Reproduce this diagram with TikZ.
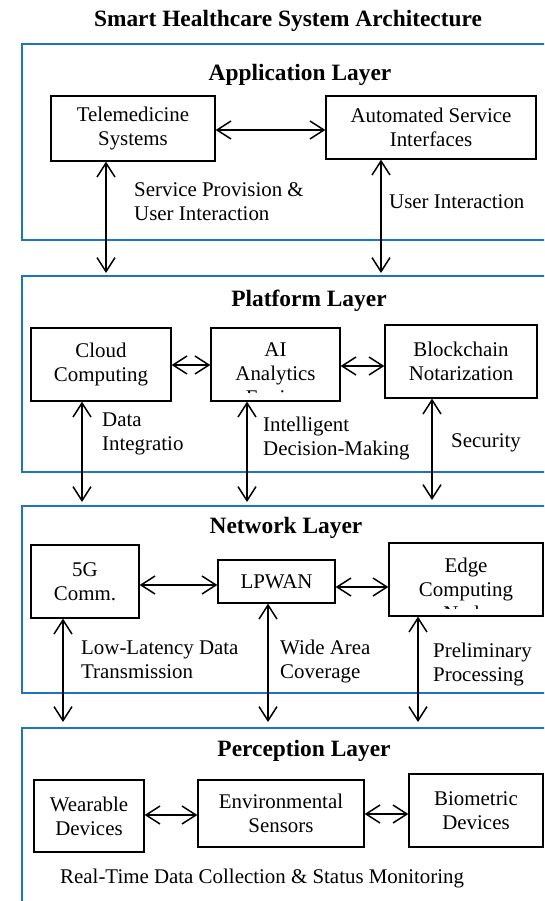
\documentclass[tikz,border=0pt]{standalone}
\usepackage{fontspec}
\setmainfont{Liberation Serif}
\usetikzlibrary{arrows.meta}
\definecolor{layerblue}{RGB}{27,117,196}
\begin{document}
\begin{tikzpicture}[x=1pt,y=-1pt,
  txt/.style={font=\fontsize{20.9}{24}\selectfont, inner sep=0pt, align=center},
  ttl/.style={font=\fontsize{23.4}{27}\selectfont\bfseries, inner sep=0pt},
  lbl/.style={font=\fontsize{20.9}{24}\selectfont, inner sep=0pt, align=left, anchor=west},
  layer/.style={draw=layerblue, line width=2.6pt},
  box/.style={draw=black, line width=1.3pt, inner sep=0pt, align=center,
              font=\fontsize{20.9}{24}\selectfont},
  link/.style={line width=1.5pt,
    {Straight Barb[length=14pt,width=18pt]}-{Straight Barb[length=14pt,width=18pt]}}
]
\useasboundingbox (0,0) rectangle (544,901);
\clip (0,0) rectangle (544,901);
\fill[white] (0,0) rectangle (544,901);

% title
\node[ttl] (title) at (288,21) {Smart Healthcare System Architecture};

% layers
\draw[layer] (22,44) rectangle (570,240);
\draw[layer] (22,276) rectangle (570,472);
\draw[layer] (22,506) rectangle (570,693);
\draw[layer] (22,728) rectangle (570,930);

\node[ttl] (l1) at (300,75) {Application Layer};
\node[ttl] (l2) at (309,301) {Platform Layer};
\node[ttl] (l3) at (286,528) {Network Layer};
\node[ttl] (l4) at (304,751) {Perception Layer};

% Application layer boxes
\node[box, minimum width=164pt, minimum height=65pt] (tele) at (133,128.5) {Telemedicine\\Systems};
\node[box, minimum width=210pt, minimum height=63pt] (auto) at (431,127.5) {Automated Service\\Interfaces};

% Platform layer boxes
\node[box, minimum width=140pt, minimum height=73pt] (cloud) at (101,364.5) {Cloud\\Computing};
\node[box, minimum width=129pt, minimum height=73pt] (ai) at (275.5,364.5) {};
\begin{scope}
  \clip (211,328) rectangle (340,392.5);
  \node[txt, anchor=north] (aitext) at (275.5,342.4) {AI\\Analytics\\Engine};
\end{scope}
\node[box, minimum width=152pt, minimum height=73pt] (blk) at (461,361.5) {Blockchain\\Notarization};

% Network layer boxes
\node[box, minimum width=108pt, minimum height=73pt] (g5) at (85,581.5) {5G\\Comm.};
\node[box, minimum width=117pt, minimum height=43pt] (lp) at (276.5,581.5) {LPWAN};
\node[box, minimum width=154pt, minimum height=73pt] (edge) at (466,579.5) {};
\begin{scope}
  \clip (389,543) rectangle (543,608.5);
  \node[txt, anchor=north] (edgetext) at (466,557.9) {Edge\\Computing\\Node};
\end{scope}

% Perception layer boxes
\node[box, minimum width=110pt, minimum height=72pt] (wear) at (89,816) {Wearable\\Devices};
\node[box, minimum width=166pt, minimum height=67pt] (env) at (281,813.5) {Environmental\\Sensors};
\node[box, minimum width=134pt, minimum height=73pt] (bio) at (476,810.5) {Biometric\\Devices};

% horizontal links
\coordinate (h1) at (0,130);
\coordinate (h2) at (0,365);
\coordinate (h3) at (0,366);
\coordinate (h4) at (0,585);
\coordinate (h5) at (0,587);
\coordinate (h6) at (0,815);
\coordinate (h7) at (0,814);
\draw[link] (tele.east |- h1) -- (auto.west |- h1);
\draw[link] (cloud.east |- h2) -- (ai.west |- h2);
\draw[link] (ai.east |- h3) -- (blk.west |- h3);
\draw[link] (g5.east |- h4) -- (lp.west |- h4);
\draw[link] (lp.east |- h5) -- (edge.west |- h5);
\draw[link] (wear.east |- h6) -- (env.west |- h6);
\draw[link] (env.east |- h7) -- (bio.west |- h7);

% vertical links
\coordinate (a1) at (106,273);
\coordinate (a2) at (381,273);
\coordinate (b1) at (82,502);
\coordinate (b2) at (247,502);
\coordinate (b3) at (432,500);
\coordinate (c1) at (63,722);
\coordinate (c2) at (268,722);
\coordinate (c3) at (418,722);
\draw[link] (tele.south -| a1) -- (a1);
\draw[link] (auto.south -| a2) -- (a2);
\draw[link] (cloud.south -| b1) -- (b1);
\draw[link] (ai.south -| b2) -- (b2);
\draw[link] (blk.south -| b3) -- (b3);
\draw[link] (g5.south -| c1) -- (c1);
\draw[link] (lp.south -| c2) -- (c2);
\draw[link] (edge.south -| c3) -- (c3);

% labels
\node[lbl] (lab1) at (134,201.5) {Service Provision \&\\User Interaction};
\node[lbl] (lab2) at (389,202) {User Interaction};
\node[lbl] (lab3) at (102,433.5) {Data\\Integratio};
\node[lbl] (lab4) at (263,438.5) {Intelligent\\Decision-Making};
\node[lbl] (lab5) at (451,443) {Security};
\node[lbl] (lab6) at (81,659.5) {Low-Latency Data\\Transmission};
\node[lbl] (lab7) at (280,661.5) {Wide Area\\Coverage};
\node[lbl] (lab8) at (433,664.5) {Preliminary\\Processing};
\node[lbl] (lab9) at (60,878) {Real-Time Data Collection \& Status Monitoring};
\end{tikzpicture}
\end{document}
